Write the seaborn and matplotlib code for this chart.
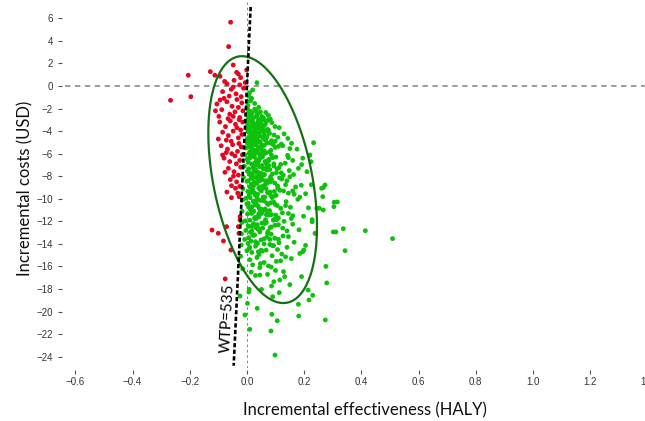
"""
Cost-effectiveness plane: incremental costs vs incremental effectiveness
"""

import numpy as np
import pandas as pd
import matplotlib
matplotlib.use("Agg")
import matplotlib.pyplot as plt
import seaborn as sns

# willingness-to-pay threshold (USD per HALY)
wtp = 535

# simulations above the WTP threshold (red)
red_effect = [
    -0.057, -0.064, -0.048, -0.205, -0.128, -0.112, -0.094, -0.267, -0.196, -0.036,
    -0.030, -0.001, -0.022, -0.122, -0.100, -0.082, -0.056, -0.028, -0.030, -0.024,
    -0.076, -0.071, -0.054, -0.040, -0.054, -0.085, -0.077, -0.094, -0.027, -0.024,
    -0.045, -0.070, -0.025, -0.055, -0.085, -0.012, -0.038, -0.062, -0.020, -0.078,
    -0.006, -0.048, -0.105, -0.088, -0.070, -0.052, -0.035, -0.018, -0.060, -0.042,
    -0.025, -0.098, -0.080, -0.014, -0.066, -0.030, -0.048, -0.110, -0.095, -0.075,
    -0.058, -0.040, -0.022, -0.015, -0.085, -0.065, -0.048, -0.030, -0.018, -0.100,
    -0.055, -0.035, -0.072, -0.027, -0.090, -0.068, -0.050, -0.033, -0.020, -0.080,
    -0.060, -0.042, -0.025, -0.016, -0.072, -0.037, -0.053, -0.028, -0.065, -0.045,
    -0.030, -0.022, -0.058, -0.036, -0.025, -0.070, -0.047, -0.032,
]
red_cost = [
    5.65, 3.49, 1.86, 0.95, 1.27, 0.95, 0.86, -1.27, -0.95, 1.21,
    1.06, 1.42, 0.74, -12.77, -13.06, -13.74, -14.54, -13.06, -12.47, -11.88,
    -17.1, -12.47, -8.84, -9.07, -9.9, -6.12, -7.65, -1.24, -9.81, -11.58,
    0.5, 0.2, 0.1, -0.3, -0.5, -0.2, -0.7, -0.9, -0.95, 0.4,
    0.3, -0.1, -1.6, -2.1, -1.4, -1.8, -1.2, -1.5, -2.5, -2.3,
    -2.8, -2.7, -1.1, -2.2, -2.9, -1.9, -2.7, -2.2, -3.2, -3.6,
    -3.1, -3.4, -3.9, -3.2, -4.1, -4.4, -4.0, -4.6, -4.3, -4.7,
    -4.9, -3.7, -4.8, -3.0, -5.3, -5.6, -5.2, -5.8, -5.4, -6.4,
    -6.7, -6.2, -6.6, -6.1, -5.9, -6.9, -6.0, -5.1, -7.3, -7.6,
    -7.9, -7.2, -8.3, -8.5, -8.9, -9.4, -8.0, -9.5,
]

# simulations below the WTP threshold (green)
green_effect = [
    0.035, 0.020, 0.006, 0.013, 0.003, 0.027, 0.009, 0.041, 0.016, 0.002,
    0.004, 0.018, 0.031, 0.052, 0.009, 0.066, 0.024, 0.001, 0.043, 0.075,
    0.012, 0.035, 0.058, 0.006, 0.027, 0.082, 0.015, 0.047, 0.003, 0.038,
    0.005, 0.022, 0.040, 0.061, 0.014, 0.033, 0.087, 0.002, 0.050, 0.075,
    0.028, 0.010, 0.068, 0.044, 0.019, 0.098, 0.036, 0.057, 0.007, 0.025,
    0.113, 0.048, 0.016, 0.072, 0.031, 0.004, 0.064, 0.039, 0.012, 0.053,
    0.003, 0.018, 0.035, 0.056, 0.079, 0.011, 0.027, 0.045, 0.095, 0.064,
    0.008, 0.022, 0.040, 0.130, 0.070, 0.015, 0.031, 0.052, 0.086, 0.001,
    0.024, 0.060, 0.038, 0.108, 0.013, 0.047, 0.074, 0.029, 0.005, 0.143,
    0.002, 0.017, 0.033, 0.050, 0.071, 0.099, 0.012, 0.026, 0.042, 0.061,
    0.084, 0.120, 0.007, 0.021, 0.038, 0.056, 0.078, 0.150, 0.015, 0.030,
    0.047, 0.066, 0.092, 0.175, -0.004, 0.024, 0.053, 0.110, 0.036, 0.009,
    -0.006, 0.010, 0.025, 0.041, 0.058, 0.077, 0.101, 0.134, 0.004, 0.019,
    0.034, 0.049, 0.068, 0.090, 0.160, 0.013, 0.029, 0.045, 0.063, 0.085,
    0.118, 0.195, 0.001, 0.022, 0.038, 0.054, 0.073, 0.142, 0.016, 0.032,
    -0.009, 0.006, 0.021, 0.037, 0.053, 0.070, 0.089, 0.112, 0.148, 0.012,
    0.028, 0.044, 0.061, 0.080, 0.103, 0.180, 0.002, 0.017, 0.033, 0.049,
    0.066, 0.094, 0.127, 0.210, 0.024, 0.040, 0.057, 0.076, 0.008, 0.163,
    -0.012, 0.004, 0.019, 0.035, 0.051, 0.068, 0.086, 0.107, 0.135, 0.010,
    0.026, 0.042, 0.059, 0.077, 0.097, 0.122, 0.190, 0.000, 0.015, 0.031,
    0.047, 0.064, 0.082, 0.150, 0.023, 0.039, 0.072, 0.114, 0.055, 0.225,
    -0.014, 0.003, 0.020, 0.037, 0.054, 0.072, 0.091, 0.115, 0.145, 0.011,
    0.028, 0.045, 0.062, 0.081, 0.102, 0.128, 0.205, -0.003, 0.016, 0.033,
    0.050, 0.067, 0.088, 0.165, 0.025, 0.058, 0.096, 0.041,
    -0.015, 0.005, 0.022, 0.039, 0.056, 0.074, 0.094, 0.118, 0.152, 0.013,
    0.030, 0.047, 0.064, 0.084, 0.106, 0.137, 0.215, 0.000, 0.018, 0.035,
    0.052, 0.070, 0.099, 0.178, 0.043, 0.026,
    -0.017, 0.002, 0.020, 0.038, 0.057, 0.076, 0.097, 0.124, 0.160, 0.010,
    0.028, 0.046, 0.065, 0.086, 0.110, 0.145, 0.198, -0.006, 0.014, 0.033,
    0.051, 0.071, 0.092, 0.042,
    -0.018, 0.004, 0.023, 0.043, 0.063, 0.085, 0.110, 0.140, 0.182, 0.012,
    0.031, 0.052, 0.074, 0.098, 0.125, 0.160, -0.004, 0.018, 0.038, 0.068,
    -0.019, 0.006, 0.027, 0.049, 0.072, 0.097, 0.126, 0.165, 0.014, 0.037,
    0.060, 0.085, 0.112, 0.145, -0.008, 0.022,
    -0.020, 0.008, 0.030, 0.054, 0.080, 0.107, 0.140, 0.185, 0.017, 0.042,
    0.067, 0.093, 0.122, 0.000,
    -0.022, 0.010, 0.035, 0.060, 0.088, 0.118, 0.155, 0.020, 0.047, 0.075,
    0.103, 0.135,
    -0.015, 0.015, 0.045, 0.072, 0.100, 0.132, 0.030, 0.085,
    0.267, 0.305, 0.316, 0.304, 0.253, 0.267, 0.228, 0.302, 0.311, 0.337,
    0.414, 0.509, 0.343, 0.276, 0.279, 0.274, 0.214, 0.230, 0.217, 0.238,
    0.205, 0.195, 0.191, 0.218, 0.224, 0.233, 0.191, 0.075, 0.156, 0.220,
    0.261, 0.273, 0.098, 0.084, 0.010, -0.007, 0.106, 0.087, 0.181, 0.036,
    0.002, 0.180, -0.024, 0.008, 0.007, 0.090, 0.113, 0.086, 0.094, 0.115,
    0.150, 0.051, 0.045, 0.128, 0.244, 0.199, 0.240, 0.228, 0.265,
    0.008, 0.019, 0.029, 0.046, 0.061, 0.012, 0.034, 0.055, 0.023, 0.002,
    0.007, 0.020, 0.037, 0.051, 0.066, 0.083, 0.014, 0.043, 0.028, 0.099,
    0.004, 0.019, 0.032, 0.046, 0.061, 0.077, 0.094, 0.011, 0.040, 0.026,
    0.003, 0.015, 0.030, 0.045, 0.060, 0.082, 0.105, 0.020, 0.052, 0.037,
    0.008, 0.021, 0.036, 0.049, 0.065, 0.083, 0.108, 0.014, 0.057, 0.029,
    0.006, 0.024, 0.041, 0.060, 0.079, 0.101, 0.016, 0.049, 0.033, 0.068,
    0.008, 0.027, 0.045, 0.062, 0.081, 0.104, 0.017, 0.055, 0.036, 0.130,
    0.010, 0.030, 0.050, 0.070, 0.090, 0.020, 0.040, 0.060, 0.080, 0.004,
    0.120, 0.140, 0.160, 0.135, 0.155, 0.170, 0.110, 0.125, 0.185, 0.145,
]
green_cost = [
    0.29, -0.35, -0.9, -1.3, -1.75, -1.55, -0.6, -1.9, -1.1, -1.4,
    -2.1, -2.4, -2.2, -2.7, -2.9, -2.35, -2.8, -2.5, -2.95, -2.6,
    -2.25, -2.55, -2.85, -2.65, -2.05, -2.95, -2.75, -2.3, -2.95, -2.45,
    -3.1, -3.3, -3.05, -3.5, -3.7, -3.85, -3.25, -3.4, -3.65, -3.9,
    -3.55, -3.95, -3.15, -3.75, -3.2, -3.6, -3.45, -3.0, -3.8, -3.35,
    -3.7, -3.25, -3.5, -3.85, -3.95, -3.6, -3.4, -3.15, -3.05, -3.9,
    -4.05, -4.3, -4.15, -4.6, -4.2, -4.75, -4.9, -4.45, -4.35, -4.8,
    -4.55, -4.1, -4.95, -4.25, -4.5, -4.4, -4.65, -4.0, -4.85, -4.7,
    -4.6, -4.3, -4.8, -4.55, -4.2, -4.95, -4.05, -4.4, -4.9, -4.65,
    -5.1, -5.35, -5.2, -5.6, -5.05, -5.45, -5.8, -5.9, -5.5, -5.25,
    -5.7, -5.15, -5.4, -5.65, -5.95, -5.3, -5.85, -5.55, -5.05, -5.75,
    -5.4, -5.95, -5.2, -5.6, -5.5, -5.1, -5.8, -5.35, -5.65, -5.9,
    -6.1, -6.4, -6.2, -6.65, -6.05, -6.5, -6.3, -6.85, -6.75, -6.95,
    -6.55, -6.15, -6.9, -6.35, -6.6, -6.25, -6.8, -6.45, -6.7, -6.1,
    -6.95, -6.4, -6.5, -6.05, -6.85, -6.3, -6.6, -6.15, -6.9, -6.75,
    -7.1, -7.35, -7.2, -7.6, -7.05, -7.45, -7.8, -7.25, -7.5, -7.9,
    -7.65, -7.15, -7.85, -7.4, -7.7, -7.3, -7.55, -7.95, -7.0, -7.75,
    -7.3, -7.1, -7.9, -7.6, -7.45, -7.95, -7.35, -7.05, -7.7, -7.85,
    -8.1, -8.4, -8.2, -8.65, -8.05, -8.5, -8.3, -8.85, -8.75, -8.95,
    -8.55, -8.15, -8.9, -8.35, -8.6, -8.25, -8.8, -8.45, -8.7, -8.1,
    -8.95, -8.4, -8.5, -8.05, -8.85, -8.3, -8.6, -8.15, -8.9, -8.75,
    -9.1, -9.35, -9.2, -9.6, -9.05, -9.45, -9.8, -9.25, -9.5, -9.9,
    -9.65, -9.15, -9.85, -9.4, -9.7, -9.3, -9.55, -9.95, -9.0, -9.75,
    -9.3, -9.1, -9.9, -9.6, -9.45, -9.95, -9.35, -9.05,
    -10.1, -10.4, -10.2, -10.65, -10.05, -10.5, -10.3, -10.85, -10.75, -10.95,
    -10.55, -10.15, -10.9, -10.35, -10.6, -10.25, -10.8, -10.45, -10.7, -10.1,
    -10.95, -10.4, -10.5, -10.05, -10.85, -10.3,
    -11.1, -11.35, -11.2, -11.6, -11.05, -11.45, -11.8, -11.25, -11.5, -11.9,
    -11.65, -11.15, -11.85, -11.4, -11.7, -11.3, -11.55, -11.95, -11.0, -11.75,
    -11.3, -11.1, -11.9, -11.6,
    -12.1, -12.4, -12.2, -12.65, -12.05, -12.5, -12.3, -12.85, -12.75, -12.95,
    -12.55, -12.15, -12.9, -12.35, -12.6, -12.25, -12.8, -12.45, -12.7, -12.1,
    -13.1, -13.45, -13.2, -13.65, -13.05, -13.5, -13.3, -13.85, -13.75, -13.95,
    -13.55, -13.15, -13.9, -13.35, -13.6, -13.25,
    -14.1, -14.4, -14.2, -14.65, -14.05, -14.5, -14.3, -14.85, -14.75, -14.95,
    -14.55, -14.15, -14.9, -14.6,
    -15.1, -15.4, -15.2, -15.65, -15.05, -15.5, -15.3, -15.85, -15.75, -15.95,
    -15.55, -15.15,
    -16.2, -16.5, -16.1, -16.7, -16.35, -16.9, -16.8, -16.05,
    -9.01, -10.31, -10.28, -10.7, -10.84, -10.99, -11.85, -12.94, -12.94, -12.65,
    -12.83, -13.53, -14.6, -15.99, -17.46, -20.74, -18.09, -18.56, -18.97, -13.06,
    -14.13, -14.69, -16.9, -6.18, -6.71, -5.03, -6.97, -3.0, -5.08, -6.12,
    -9.07, -8.78, -23.85, -21.72, -21.57, -20.3, -20.81, -20.24, -20.39, -19.71,
    -19.27, -19.35, -18.62, -18.03, -18.26, -18.68, -18.32, -17.73, -17.35, -17.2,
    -17.61, -18.03, -16.76, -16.46, -10.84, -14.54, -13.06, -12.03, -9.81,
    -2.6, -3.05, -3.8, -3.3, -3.95, -4.0, -2.7, -3.6, -3.45, -3.75,
    -4.5, -4.85, -4.25, -5.3, -4.7, -5.05, -5.45, -4.15, -5.2, -4.9,
    -6.45, -5.6, -6.85, -6.2, -5.75, -6.6, -6.9, -6.05, -5.55, -6.3,
    -7.55, -8.2, -7.4, -8.4, -7.85, -8.05, -7.35, -7.75, -8.3, -8.45,
    -9.65, -8.8, -9.95, -9.25, -8.7, -9.7, -9.05, -9.4, -9.85, -9.55,
    -10.75, -11.1, -11.35, -10.2, -11.05, -11.45, -11.3, -10.95, -10.45, -11.4,
    -12.45, -11.75, -12.95, -12.2, -12.55, -11.85, -12.85, -12.6, -12.3, -12.0,
    -14.3, -13.8, -14.55, -13.4, -14.15, -13.2, -14.7, -14.0, -13.6, -13.95,
    -7.7, -8.4, -9.3, -10.6, -11.75, -8.95, -13.6, -5.3, -9.85, -6.35,
]

# 95% confidence ellipse summary (effect, cost)
ellipse_mean = [0.055, -8.3]
ellipse_sd = [0.0776, 4.47]
ellipse_corr = -0.38
chi2_95 = 5.991

x_ticks = [-0.6, -0.4, -0.2, 0.0, 0.2, 0.4, 0.6, 0.8, 1.0, 1.2, 1.4]
x_labels = ["\u22120.6", "\u22120.4", "\u22120.2", "0.0", "0.2", "0.4", "0.6", "0.8", "1.0", "1.2", "1.4"]
y_ticks = [6, 4, 2, 0, -2, -4, -6, -8, -10, -12, -14, -16, -18, -20, -22, -24]
y_labels = [str(v).replace("-", "\u2212") for v in y_ticks]

RED = "#E3061E"
GREEN = "#0DC10D"
DARK_GREEN = "#157015"

sns.set_theme(style="white")

df = pd.DataFrame({
    "effect": red_effect + green_effect,
    "cost": red_cost + green_cost,
    "group": ["above"] * len(red_effect) + ["below"] * len(green_effect),
})

fig = plt.figure(figsize=(6.45, 4.21), dpi=100)
ax = fig.add_axes([65 / 645, 53 / 421, 596.7 / 645, 368 / 421])

ax.axhline(0, color="#808080", lw=1.1, dashes=(3.5, 3.0), zorder=1)
ax.axvline(0, color="#808080", lw=0.7, dashes=(2.5, 3.0), zorder=1)

sns.scatterplot(data=df, x="effect", y="cost", hue="group",
                palette={"above": RED, "below": GREEN},
                s=12, linewidth=0, legend=False, ax=ax, zorder=2)

# WTP line through the origin
y_line = np.array([7.0, -24.8])
ax.plot(y_line / wtp, y_line, color="black", lw=1.9, dashes=(1.6, 0.9), zorder=4)
ax.text(-0.066, -20.6, f"WTP={wtp}", rotation=87, ha="center", va="center",
        fontsize=11, family="Lato", color="black", zorder=5)

# confidence ellipse
t = np.linspace(0, 2 * np.pi, 300)
scale = np.sqrt(chi2_95)
theta = np.arccos(ellipse_corr)
ex = ellipse_mean[0] + scale * ellipse_sd[0] * np.cos(t)
ey = ellipse_mean[1] + scale * ellipse_sd[1] * np.cos(t + theta)
ax.plot(ex, ey, color=DARK_GREEN, lw=1.6, zorder=3)

ax.set_xlim(-0.636, 1.45)
ax.set_ylim(-25.0, 7.62)

for sp in ax.spines.values():
    sp.set_visible(False)
ax.spines["left"].set_position(("outward", 2.5))
ax.spines["bottom"].set_position(("outward", 1.5))

ax.set_xticks(x_ticks)
ax.set_xticklabels(x_labels)
ax.set_yticks(y_ticks)
ax.set_yticklabels(y_labels)
ax.tick_params(axis="both", which="major", direction="out", length=3.2, width=0.8,
               color="#555555", labelsize=7, labelcolor="#333333",
               bottom=True, left=True)
ax.tick_params(axis="x", pad=1.5)
ax.tick_params(axis="y", pad=3)
for lab in ax.get_xticklabels() + ax.get_yticklabels():
    lab.set_family("Liberation Sans")

ax.set_xlabel("")
ax.set_ylabel("")
fig.text(365 / 645, 1 - 410 / 421, "Incremental effectiveness (HALY)", ha="center", va="center",
         fontsize=12, family="Lato", color="#111111")
fig.text(25 / 645, 1 - 188 / 421, "Incremental costs (USD)", ha="center", va="center",
         rotation=90, fontsize=12, family="Lato", color="#111111")

fig.savefig("out.png", dpi=100)
